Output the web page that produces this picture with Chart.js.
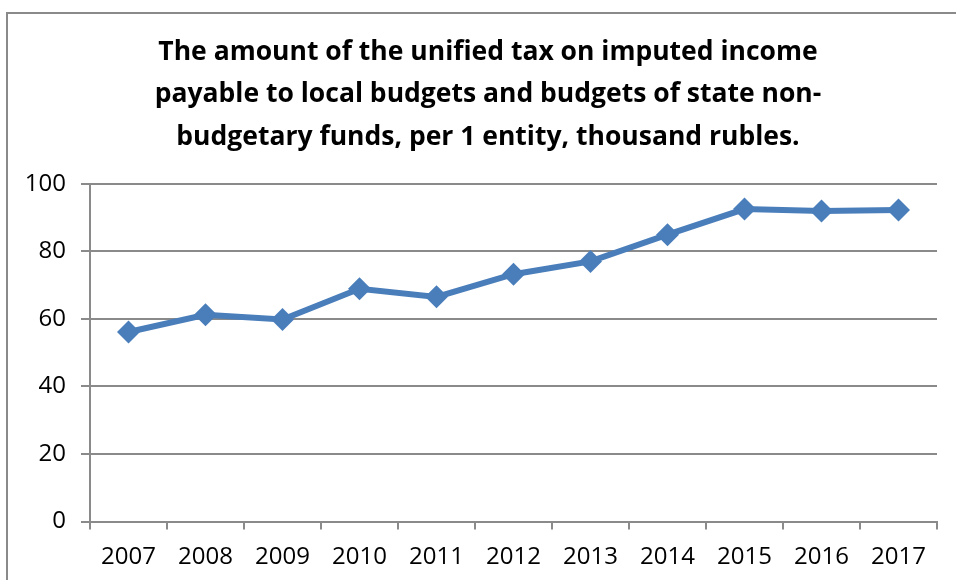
<!DOCTYPE html>
<html>
<head>
<meta charset="utf-8">
<script src="https://cdn.jsdelivr.net/npm/chart.js@4/dist/chart.umd.min.js"></script>
<style>
  html, body { margin: 0; padding: 0; background: #fff; }
  #wrap { position: relative; width: 956px; height: 580px; overflow: hidden; }
  #frame {
    position: absolute; left: 6px; top: 12px; width: 1000px; height: 600px;
    border-left: 2px solid #8a8a8a; border-top: 2px solid #8a8a8a;
  }
  #taxChart { position: absolute; left: 0; top: 0; }
</style>
</head>
<body>
<div id="wrap">
  <div id="frame"></div>
  <canvas id="taxChart" width="956" height="580"></canvas>
</div>
<script>
const years = ['2007', '2008', '2009', '2010', '2011', '2012', '2013', '2014', '2015', '2016', '2017'];
const taxPerEntity = [56.1, 61.2, 59.8, 68.9, 66.5, 73.2, 77.0, 84.9, 92.5, 91.9, 92.2];
const titleLines = [
    'The amount of the unified tax on imputed income',
    'payable to local budgets and budgets of state non-',
    'budgetary funds, per 1 entity, thousand rubles.'
];

const fontFamily = '"Open Sans", sans-serif';
const gridColor = '#8a8a8a';
const lineBlue = '#4a7ebb';

// the title sits a little right of the canvas centre, over the plot
const shiftTitle = {
    id: 'shiftTitle',
    afterLayout(chart) {
        if (chart.titleBlock) {
            chart.titleBlock.left = 39;
            chart.titleBlock.right = chart.chartArea.right;
        }
    }
};

const ctx = document.getElementById('taxChart').getContext('2d');

new Chart(ctx, {
    type: 'line',
    data: {
        labels: years,
        datasets: [{
            label: 'thousand rubles',
            data: taxPerEntity,
            borderColor: lineBlue,
            backgroundColor: lineBlue,
            borderWidth: 6,
            pointStyle: 'rectRot',
            pointRadius: 11.5,
            pointHoverRadius: 11.5,
            pointBorderWidth: 0,
            tension: 0
        }]
    },
    plugins: [shiftTitle],
    options: {
        responsive: false,
        animation: false,
        layout: { padding: { left: 8, right: 19, top: 0, bottom: 0 } },
        plugins: {
            legend: { display: false },
            tooltip: { enabled: false },
            title: {
                display: true,
                text: titleLines,
                color: '#000',
                font: { family: fontFamily, size: 26.5, weight: 'bold', lineHeight: 1.6 },
                padding: { top: 31, bottom: 25.5 }
            }
        },
        scales: {
            x: {
                offset: true,
                afterFit: function (scale) { scale.height = 58.5; },
                grid: {
                    offset: true,
                    drawOnChartArea: false,
                    drawTicks: true,
                    tickLength: 8,
                    color: gridColor,
                    lineWidth: 2
                },
                border: { color: gridColor, width: 2 },
                ticks: {
                    color: '#000',
                    padding: 13,
                    maxRotation: 0,
                    font: { family: fontFamily, size: 24 }
                }
            },
            y: {
                min: 0,
                max: 100,
                afterFit: function (scale) { scale.width = 82; },
                grid: {
                    color: gridColor,
                    lineWidth: 2,
                    tickLength: 9
                },
                border: { color: gridColor, width: 2 },
                ticks: {
                    stepSize: 20,
                    color: '#000',
                    padding: 15,
                    font: { family: fontFamily, size: 24 }
                }
            }
        }
    }
});
</script>
</body>
</html>
